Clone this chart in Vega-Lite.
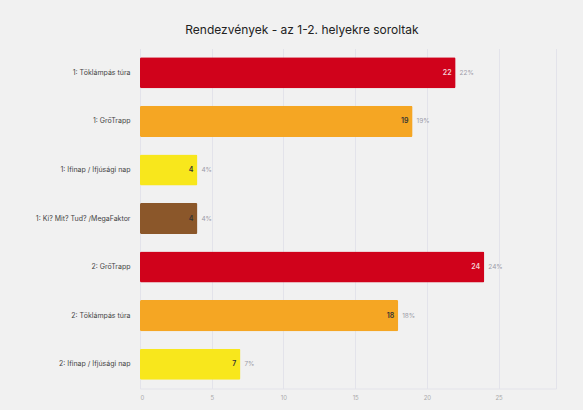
{
  "$schema": "https://vega.github.io/schema/vega-lite/v6.json",
  "autosize": {"type": "none"},
  "width": 416,
  "height": 340,
  "padding": {"left": 140, "top": 48.5, "right": 27, "bottom": 21.5},
  "background": "#f1f1f1",
  "config": {
    "font": "Inter",
    "view": {"stroke": null}
  },
  "title": {
    "text": "Rendezvények - az 1-2. helyekre soroltak",
    "fontSize": 12,
    "fontWeight": "normal",
    "color": "#222222",
    "anchor": "middle",
    "dx": -46,
    "offset": 12
  },
  "data": {
    "values": [
      {"label": "1: Töklámpás túra", "value": 22, "pct": "22%", "place": 1},
      {"label": "1: GrőTrapp", "value": 19, "pct": "19%", "place": 2},
      {"label": "1: Ifinap / Ifjúsági nap", "value": 4, "pct": "4%", "place": 3},
      {"label": "1: Ki? Mit? Tud? /MegaFaktor", "value": 4, "pct": "4%", "place": 4},
      {"label": "2: GrőTrapp", "value": 24, "pct": "24%", "place": 1},
      {"label": "2: Töklámpás túra", "value": 18, "pct": "18%", "place": 2},
      {"label": "2: Ifinap / Ifjúsági nap", "value": 7, "pct": "7%", "place": 3}
    ]
  },
  "encoding": {
    "y": {
      "field": "label",
      "type": "nominal",
      "sort": null,
      "scale": {"paddingInner": 0.36, "paddingOuter": 0.18},
      "axis": {
        "title": null,
        "domain": false,
        "ticks": false,
        "labelFontSize": 7,
        "labelColor": "#444444",
        "labelPadding": 10,
        "labelLimit": 200
      }
    },
    "x": {
      "field": "value",
      "type": "quantitative",
      "scale": {"domain": [0, 29], "nice": false},
      "axis": {
        "title": null,
        "values": [0, 5, 10, 15, 20, 25, 29],
        "labelExpr": "datum.value == 29 ? '' : datum.label",
        "grid": true,
        "gridColor": "#e3e3ea",
        "gridWidth": 1,
        "domain": true,
        "domainColor": "#e3e3ea",
        "ticks": false,
        "labelFontSize": 6,
        "labelColor": "#aaaaaa",
        "labelPadding": 6
      }
    }
  },
  "layer": [
    {
      "mark": {"type": "bar", "cornerRadius": 1.5},
      "encoding": {
        "color": {
          "field": "place",
          "type": "nominal",
          "scale": {"domain": [1, 2, 3, 4], "range": ["#d0021b", "#f5a623", "#f8e71c", "#8b572a"]},
          "legend": null
        }
      }
    },
    {
      "mark": {"type": "text", "align": "right", "dx": -4, "fontSize": 7, "fontWeight": 600},
      "encoding": {
        "text": {"field": "value", "type": "quantitative"},
        "color": {
          "condition": {"test": "datum.place == 1", "value": "#f3d0d4"},
          "value": "#333333"
        }
      }
    },
    {
      "mark": {"type": "text", "align": "left", "dx": 4, "fontSize": 6.5, "color": "#9c9ca8"},
      "encoding": {
        "text": {"field": "pct", "type": "nominal"}
      }
    }
  ]
}
